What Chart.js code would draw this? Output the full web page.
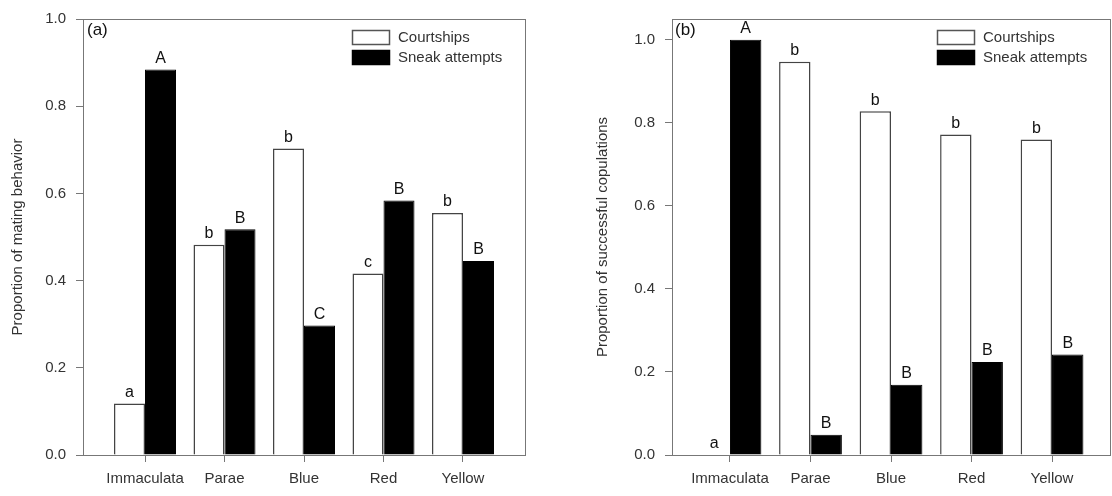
<!DOCTYPE html>
<html>
<head>
<meta charset="UTF-8">
<title>Mating behavior</title>
<script src="https://cdn.jsdelivr.net/npm/chart.js@4"></script>
<style>
  body { margin: 0; background: #fff; }
  #wrap { position: relative; width: 1112px; height: 496px; }
  .panel { position: absolute; top: 0; width: 556px; height: 496px; }
</style>
</head>
<body>
<div id="wrap">
  <div class="panel" style="left:0"><canvas id="chartA" width="556" height="496"></canvas></div>
  <div class="panel" style="left:556px"><canvas id="chartB" width="556" height="496"></canvas></div>
</div>
<script>
const categories = ['Immaculata', 'Parae', 'Blue', 'Red', 'Yellow'];
const seriesNames = ['Courtships', 'Sneak attempts'];
const yTicks = [0, 0.2, 0.4, 0.6, 0.8, 1.0];

// panel (a)
const behaviorCourtships = [0.118, 0.482, 0.703, 0.416, 0.555];
const behaviorSneaks = [0.884, 0.518, 0.297, 0.584, 0.445];
const behaviorCourtshipLetters = ['a', 'b', 'b', 'c', 'b'];
const behaviorSneakLetters = ['A', 'B', 'C', 'B', 'B'];

// panel (b)
const successCourtships = [0, 0.947, 0.828, 0.772, 0.760];
const successSneaks = [1.0, 0.049, 0.169, 0.224, 0.242];
const successCourtshipLetters = ['a', 'b', 'b', 'b', 'b'];
const successSneakLetters = ['A', 'B', 'B', 'B', 'B'];

const FONT = '"Liberation Sans", Arial, sans-serif';
const AXIS = '#777';
const TEXT = '#333';

// frame, letters over bars, panel tag and legend
const decorPlugin = {
  id: 'decor',
  afterDatasetsDraw(chart) {
    const o = chart.options.plugins.decor;
    const ctx = chart.ctx;
    ctx.save();
    ctx.fillStyle = '#111';
    ctx.font = '16px ' + FONT;
    ctx.textAlign = 'center';
    ctx.textBaseline = 'bottom';
    o.letters.forEach((letters, i) => {
      chart.getDatasetMeta(i).data.forEach((bar, j) => {
        ctx.fillText(letters[j], bar.x, bar.y - 3);
      });
    });
    ctx.restore();
  },
  afterDraw(chart) {
    const o = chart.options.plugins.decor;
    const ctx = chart.ctx;
    const a = chart.chartArea;
    ctx.save();
    ctx.strokeStyle = AXIS;
    ctx.lineWidth = 1;
    ctx.strokeRect(Math.round(a.left) + 0.5, Math.round(a.top) + 0.5,
                   Math.round(a.right - a.left), Math.round(a.bottom - a.top));

    ctx.fillStyle = '#111';
    ctx.font = '17px ' + FONT;
    ctx.textAlign = 'left';
    ctx.textBaseline = 'middle';
    ctx.fillText(o.tag, o.tagX, 30);

    // legend
    const fills = ['#fff', '#000'];
    ctx.font = '15px ' + FONT;
    seriesNames.forEach((name, i) => {
      const top = 30 + i * 20;
      ctx.fillStyle = fills[i];
      ctx.fillRect(o.legendX, top, 38, 15);
      ctx.strokeStyle = i === 0 ? '#555' : '#000';
      ctx.lineWidth = 1.5;
      ctx.strokeRect(o.legendX + 0.5, top + 0.5, 37, 14);
      ctx.fillStyle = TEXT;
      ctx.fillText(name, o.legendX + 46, top + 8);
    });
    ctx.restore();
  }
};

function makeChart(id, cfg) {
  const ctx = document.getElementById(id).getContext('2d');
  return new Chart(ctx, {
    type: 'bar',
    data: {
      datasets: [{
        label: seriesNames[0],
        data: cfg.courtships.map((v, i) => ({ x: i, y: v })),
        backgroundColor: '#fff',
        borderColor: '#444',
        borderWidth: 1.5,
        borderSkipped: 'bottom'
      }, {
        label: seriesNames[1],
        data: cfg.sneaks.map((v, i) => ({ x: i, y: v })),
        backgroundColor: '#000',
        borderColor: '#000',
        borderWidth: 1
      }]
    },
    options: {
      responsive: false,
      animation: false,
      devicePixelRatio: 1,
      categoryPercentage: 0.78,
      barPercentage: 1.0,
      layout: { padding: { top: cfg.top, right: cfg.right, left: 0, bottom: 0 } },
      plugins: {
        legend: { display: false },
        tooltip: { enabled: false },
        decor: {
          letters: [cfg.courtshipLetters, cfg.sneakLetters],
          tag: cfg.tag, tagX: cfg.tagX, legendX: cfg.legendX
        }
      },
      scales: {
        x: {
          type: 'linear',
          offset: false,
          min: -cfg.pad,
          max: categories.length - 1 + cfg.pad,
          afterBuildTicks: s => { s.ticks = categories.map((c, i) => ({ value: i })); },
          afterFit: s => { s.height = 41; },
          ticks: {
            callback: v => categories[v],
            autoSkip: false, maxRotation: 0,
            color: TEXT, font: { family: FONT, size: 15 }, padding: 8
          },
          grid: { offset: false, drawOnChartArea: false, drawTicks: true, tickLength: 7, color: AXIS },
          border: { color: AXIS }
        },
        y: {
          min: 0,
          max: cfg.yMax,
          afterBuildTicks: s => { s.ticks = yTicks.map(v => ({ value: v })); },
          afterFit: s => { s.width = cfg.left; },
          ticks: {
            callback: v => v.toFixed(1),
            color: TEXT, font: { family: FONT, size: 15 }, padding: 10
          },
          grid: { drawOnChartArea: false, drawTicks: true, tickLength: 7, color: AXIS },
          border: { color: AXIS },
          title: {
            display: true, text: cfg.title, color: TEXT,
            font: { family: FONT, size: 15 },
            padding: { top: cfg.titlePad, bottom: 0 }
          }
        }
      }
    },
    plugins: [decorPlugin]
  });
}

makeChart('chartA', {
  courtships: behaviorCourtships, sneaks: behaviorSneaks,
  courtshipLetters: behaviorCourtshipLetters, sneakLetters: behaviorSneakLetters,
  title: 'Proportion of mating behavior', titlePad: 9,
  tag: '(a)', tagX: 87, legendX: 352,
  left: 83, right: 31, top: 15, yMax: 1.0, pad: 0.78
});

makeChart('chartB', {
  courtships: successCourtships, sneaks: successSneaks,
  courtshipLetters: successCourtshipLetters, sneakLetters: successSneakLetters,
  title: 'Proportion of successful copulations', titlePad: 38,
  tag: '(b)', tagX: 119, legendX: 381,
  left: 116, right: 2, top: 14, yMax: 1.05, pad: 0.72
});
</script>
</body>
</html>
